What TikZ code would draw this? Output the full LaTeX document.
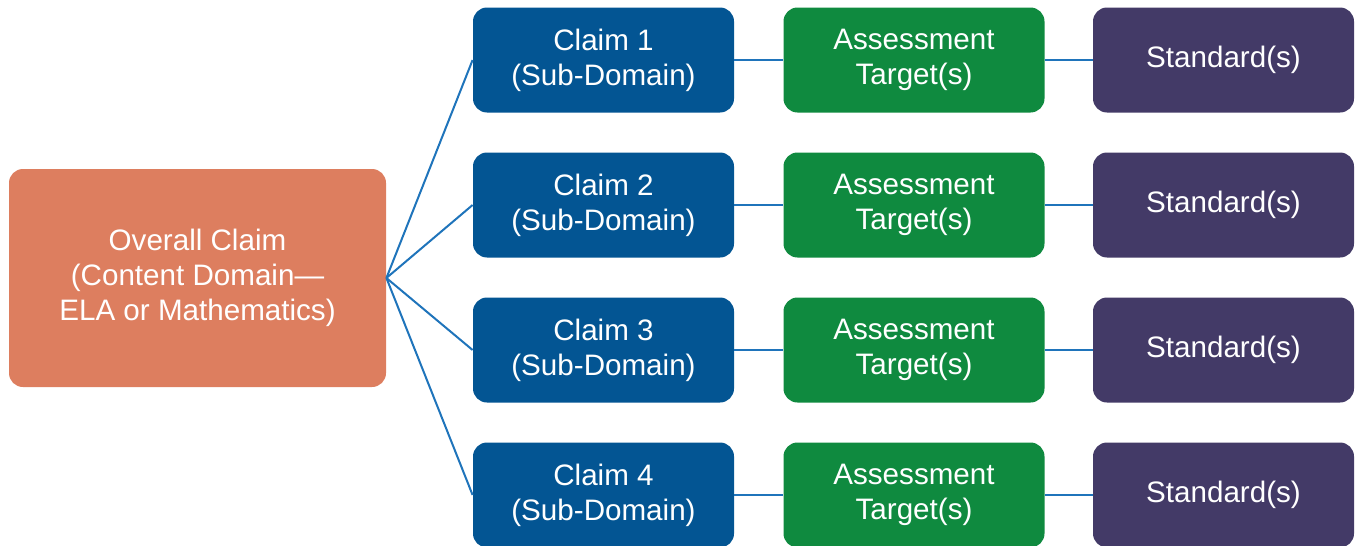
\documentclass[tikz,border=0pt]{standalone}
\usepackage{fontspec}
\setmainfont{Liberation Sans}
\definecolor{overallorange}{HTML}{DD7E5F}
\definecolor{claimblue}{HTML}{035593}
\definecolor{targetgreen}{HTML}{0F8A3F}
\definecolor{standardpurple}{HTML}{433A67}
\definecolor{linkblue}{HTML}{1F74BB}
\begin{document}
\begin{tikzpicture}[x=0.5pt, y=-0.5pt,
    box/.style={rounded corners=7pt, text=white, align=center, inner sep=0pt,
        minimum width=130.5pt, minimum height=52.5pt,
        font=\fontsize{14.8pt}{17.6pt}\selectfont},
    claimbox/.style={box, fill=claimblue},
    targetbox/.style={box, fill=targetgreen},
    standardbox/.style={box, fill=standardpurple},
    link/.style={linkblue, line width=1pt}]
    \useasboundingbox (0,0) rectangle (1356,546);

    \node[box, fill=overallorange, minimum width=188.5pt, minimum height=109pt] (overall) at (197.5,278) {Overall Claim\\(Content Domain—\\ELA or Mathematics)};

    \node[claimbox] (claim1) at (603.5,60) {Claim 1\\(Sub-Domain)};
    \node[claimbox] (claim2) at (603.5,205) {Claim 2\\(Sub-Domain)};
    \node[claimbox] (claim3) at (603.5,350) {Claim 3\\(Sub-Domain)};
    \node[claimbox] (claim4) at (603.5,495) {Claim 4\\(Sub-Domain)};

    \node[targetbox] (target1) at (914,60) {Assessment\\Target(s)};
    \node[targetbox] (target2) at (914,205) {Assessment\\Target(s)};
    \node[targetbox] (target3) at (914,350) {Assessment\\Target(s)};
    \node[targetbox] (target4) at (914,495) {Assessment\\Target(s)};

    \node[standardbox] (standard1) at (1223.5,60) {Standard(s)};
    \node[standardbox] (standard2) at (1223.5,205) {Standard(s)};
    \node[standardbox] (standard3) at (1223.5,350) {Standard(s)};
    \node[standardbox] (standard4) at (1223.5,495) {Standard(s)};

    \draw[link] (overall.east) -- (claim1.west);
    \draw[link] (overall.east) -- (claim2.west);
    \draw[link] (overall.east) -- (claim3.west);
    \draw[link] (overall.east) -- (claim4.west);

    \draw[link] (claim1) -- (target1);
    \draw[link] (claim2) -- (target2);
    \draw[link] (claim3) -- (target3);
    \draw[link] (claim4) -- (target4);

    \draw[link] (target1) -- (standard1);
    \draw[link] (target2) -- (standard2);
    \draw[link] (target3) -- (standard3);
    \draw[link] (target4) -- (standard4);
\end{tikzpicture}
\end{document}
